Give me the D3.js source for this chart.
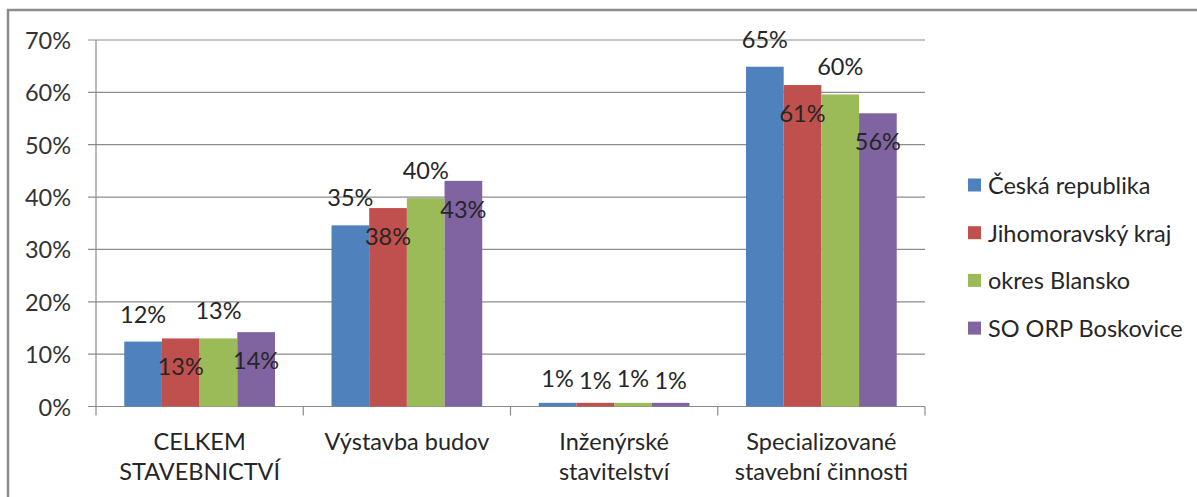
<!DOCTYPE html>
<html>
<head>
<meta charset="utf-8">
<script src="https://cdn.jsdelivr.net/npm/d3@7"></script>
<style>
  body { margin: 0; background: #fff; }
  svg { display: block; }
  text { font-family: Lato, "Open Sans", sans-serif; }
</style>
</head>
<body>
<svg id="chart"></svg>
<script>
var width = 1197
var height = 497
var fontSize = "23.5px"

// data
var categories = ["CELKEM STAVEBNICTVÍ", "Výstavba budov", "Inženýrské stavitelství", "Specializované stavební činnosti"]
var catLines = [["CELKEM", "STAVEBNICTVÍ"], ["Výstavba budov"], ["Inženýrské", "stavitelství"], ["Specializované", "stavební činnosti"]]
var series = ["Česká republika", "Jihomoravský kraj", "okres Blansko", "SO ORP Boskovice"]
var ceskaRepublika = [12.4, 34.6, 0.7, 64.9]
var jihomoravsky = [13.0, 37.9, 0.7, 61.4]
var okresBlansko = [13.0, 39.8, 0.7, 59.6]
var soOrpBoskovice = [14.2, 43.1, 0.7, 56.0]
var yTicks = [0, 10, 20, 30, 40, 50, 60, 70]
var colors = ["#4F81BD", "#C0504D", "#9BBB59", "#8064A2"]

var values = [ceskaRepublika, jihomoravsky, okresBlansko, soOrpBoskovice]

var svg = d3.select("#chart").attr("width", width).attr("height", height)

// outer frame (only top and left visible in the crop)
svg.append("rect")
    .attr("x", 8).attr("y", 10)
    .attr("width", 1400).attr("height", 700)
    .attr("fill", "none")
    .attr("stroke", "#8c8c8c")
    .attr("stroke-width", 2.5)

var plotLeft = 96, plotRight = 925, plotTop = 40, plotBottom = 406.5

var y = d3.scaleLinear().domain([0, 70]).range([plotBottom, plotTop])
var x0 = d3.scaleBand().domain(categories).range([plotLeft, plotRight]).padding(0)
var x1 = d3.scaleBand().domain(series).range([0, x0.bandwidth()]).paddingInner(0).paddingOuter(0.75)

// gridlines + y ticks
var yAxis = svg.append("g")
yTicks.forEach(function(t) {
    yAxis.append("line")
        .attr("x1", plotLeft - 8).attr("x2", plotRight)
        .attr("y1", y(t)).attr("y2", y(t))
        .attr("stroke", "#8c8c8c").attr("stroke-width", 1.2)
    yAxis.append("text")
        .attr("x", 71).attr("y", y(t))
        .attr("text-anchor", "end")
        .attr("dominant-baseline", "central")
        .attr("font-size", fontSize)
        .attr("fill", "#333")
        .text(t + "%")
})
// y axis line
svg.append("line")
    .attr("x1", plotLeft).attr("x2", plotLeft)
    .attr("y1", plotTop).attr("y2", plotBottom)
    .attr("stroke", "#8c8c8c").attr("stroke-width", 1.2)

// category ticks
var catEdges = categories.map(function(c) { return x0(c) }).concat([plotRight])
catEdges.forEach(function(ex) {
    svg.append("line")
        .attr("x1", ex).attr("x2", ex)
        .attr("y1", plotBottom).attr("y2", plotBottom + 9)
        .attr("stroke", "#8c8c8c").attr("stroke-width", 1.2)
})

// bars
var groups = svg.selectAll("g.cat")
    .data(categories)
    .join("g")
    .attr("class", "cat")
    .attr("transform", function(c) { return "translate(" + x0(c) + ",0)" })

groups.each(function(c, ci) {
    var g = d3.select(this)
    series.forEach(function(s, si) {
        var v = values[si][ci]
        g.append("rect")
            .attr("x", x1(s))
            .attr("y", y(v))
            .attr("width", x1.bandwidth())
            .attr("height", plotBottom - y(v))
            .attr("fill", colors[si])
    })
})

// data labels: blue/green above the bar, red/purple pushed inside
groups.each(function(c, ci) {
    var g = d3.select(this)
    series.forEach(function(s, si) {
        var v = values[si][ci]
        var top = y(v)
        var barH = plotBottom - top
        var ly
        if (si % 2 === 0) ly = barH > 20 ? top - 19 : top - 16
        else ly = barH > 40 ? top + 37 : top - 14
        g.append("text")
            .attr("x", x1(s) + x1.bandwidth() / 2)
            .attr("y", ly)
            .attr("text-anchor", "middle")
            .attr("font-size", fontSize)
            .attr("fill", "#262626")
            .text(Math.round(v) + "%")
    })
})

// category labels
categories.forEach(function(c, ci) {
    var t = svg.append("text")
        .attr("x", x0(c) + x0.bandwidth() / 2)
        .attr("y", 450)
        .attr("text-anchor", "middle")
        .attr("font-size", fontSize)
        .attr("fill", "#262626")
    catLines[ci].forEach(function(line, li) {
        t.append("tspan")
            .attr("x", x0(c) + x0.bandwidth() / 2)
            .attr("y", 450 + li * 30)
            .text(line)
    })
})

// legend
var legend = svg.append("g")
series.forEach(function(s, si) {
    var cy = 185 + si * 47.7
    legend.append("rect")
        .attr("x", 968).attr("y", cy - 6.5)
        .attr("width", 13).attr("height", 13)
        .attr("fill", colors[si])
    legend.append("text")
        .attr("x", 988).attr("y", cy)
        .attr("dominant-baseline", "central")
        .attr("font-size", fontSize)
        .attr("fill", "#262626")
        .text(s)
})
</script>
</body>
</html>
